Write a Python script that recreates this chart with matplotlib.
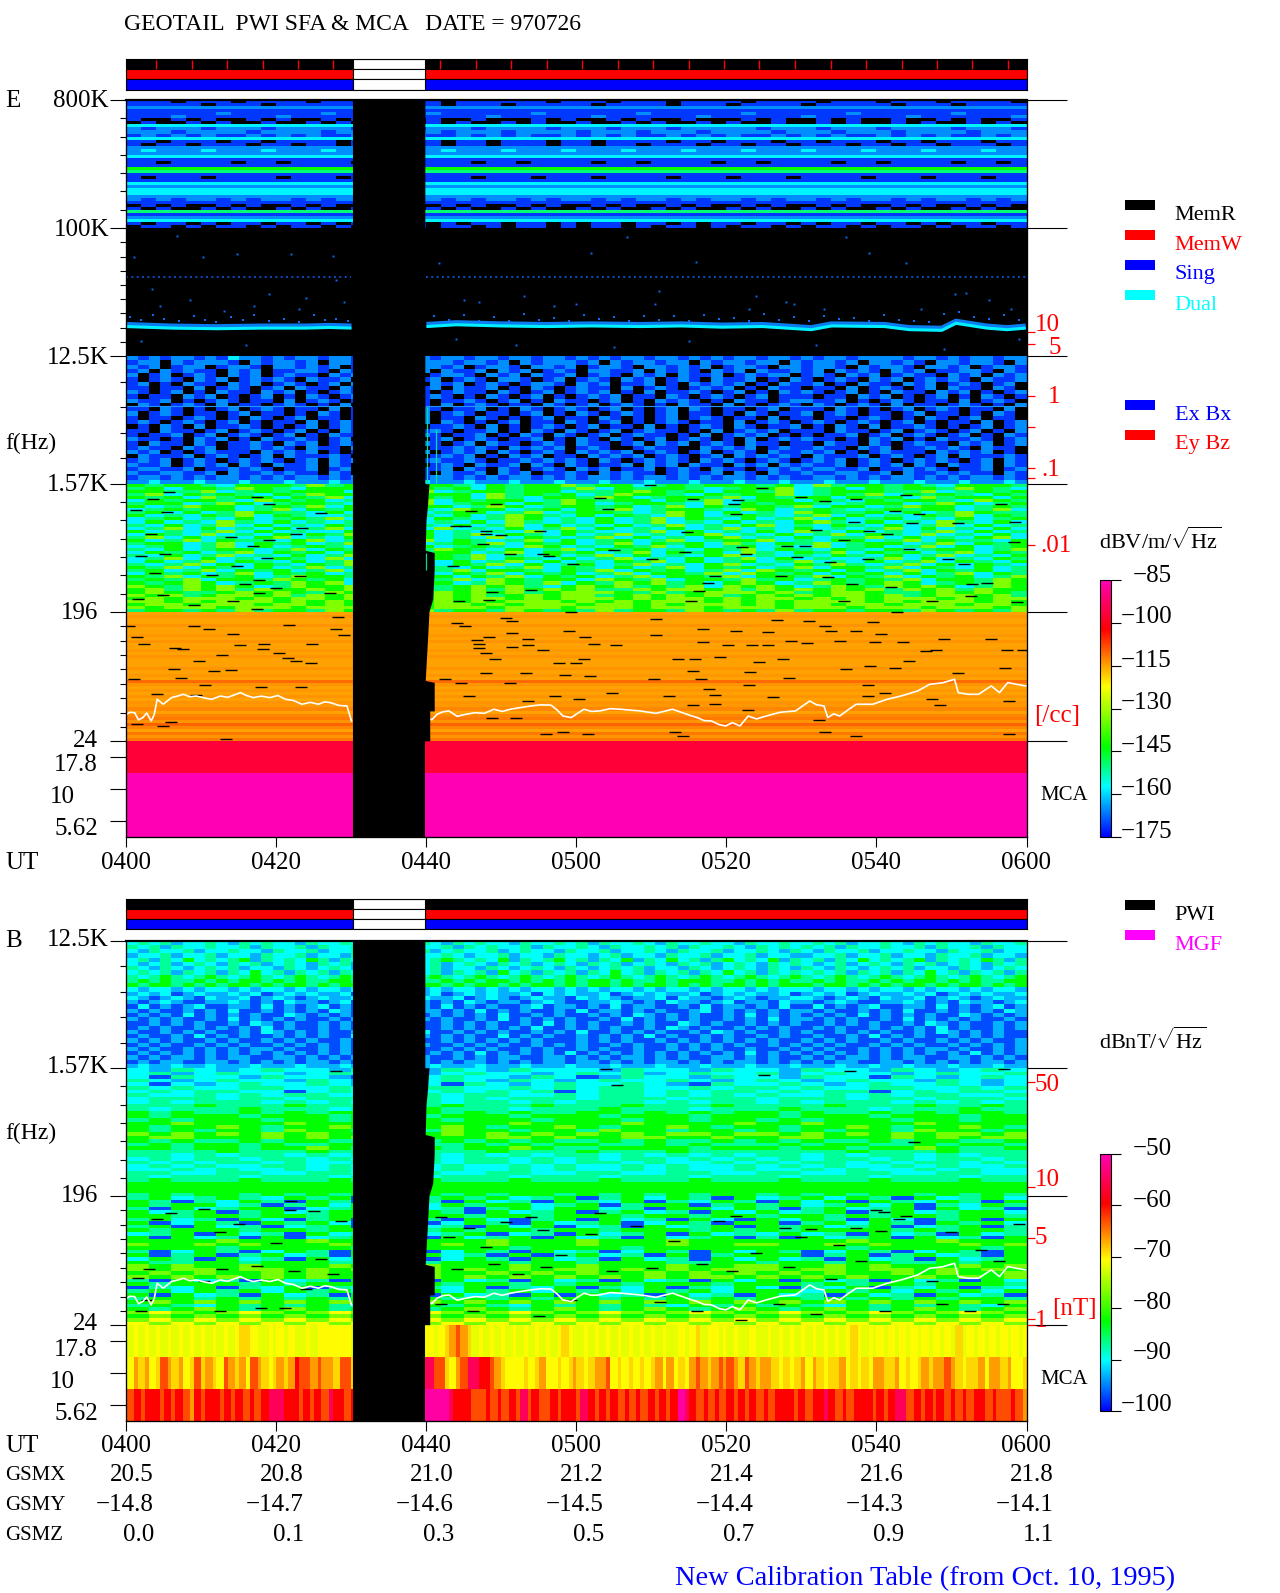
import numpy as np
import matplotlib
matplotlib.use("Agg")
import matplotlib.pyplot as plt
from matplotlib.cm import ScalarMappable
from matplotlib.colors import LinearSegmentedColormap, Normalize

W, H = 1280, 1593
FONT = "Liberation Serif"
plt.rcParams["mathtext.fontset"] = "custom"
plt.rcParams["mathtext.rm"] = FONT

# time axis, orbit table
ut_ticks = [0, 20, 40, 60, 80, 100, 120]
ut_labels = ["0400", "0420", "0440", "0500", "0520", "0540", "0600"]
gsmx = ["20.5", "20.8", "21.0", "21.2", "21.4", "21.6", "21.8"]
gsmy = ["-14.8", "-14.7", "-14.6", "-14.5", "-14.4", "-14.3", "-14.1"]
gsmz = ["0.0", "0.1", "0.3", "0.5", "0.7", "0.9", "1.1"]

# data gap and status bars (minutes after 0400)
data_spans = [(0, 30.2), (39.8, 80.2)]
gap_span = [(30.2, 9.6)]
status_ticks = [3.97, 8.7, 13.4, 18.2, 22.9, 27.6, 41.8, 46.6, 51.3, 56.1, 60.8, 65.5,
                70.2, 75, 79.7, 84.4, 89.1, 93.9, 98.6, 103.4, 108.1, 112.8, 117.6]
gap_edge_min = [39.85, 39.85, 40.4, 40.2, 40.0, 39.9, 41.1, 41.1, 40.9, 40.4, 40.2, 39.9, 41.1, 41.1, 40.5, 40.5, 39.8, 39.8]
gap_edge_hz = [800000, 1570, 1570, 1098, 850, 530, 511, 390, 240, 196, 123, 64, 62, 39, 39, 24, 24, 5.05]

# band limits in Hz
band_edges = [800000, 100000, 12500, 1570, 196, 24]
band_subdiv = [7, 9, 5, 7, 9]
mca_pos = [18.5, 11.0, 6.55]
FLOOR = 5.05

# codes -> dB
e_levels = [-999, -171, -165, -158, -150, -143, -133]
b_levels = [-999, -97, -93, -90, -87, -82.5, -77, -71]
b_mca_levels = [-999, -72, -70.7, -69, -66.6, -63, -59.6, -55, -51]

e_top = [
"111011101111011110111011111101110111011110111101110111011110", "111110111011111101111011101111101111011101111011111011101111",
"2", "1", "111111211111121111112111111211111121111112111111211111121111", "111211111121111112111111211111121111112111111211111121111112",
"100101001010010100101001000101001010010001010010100100101001", "010010100100101001001010010100100101001010010010100101001010",
"3", "212221222122222122212221222212221222122222122212221222212221", "222122221222212221222122212222122212221222212221222122221222",
"121212112121211212121121212112121211212121121212112121211212", "3",
"110111011011110110111011011101101111011011101101110110111011", "101101110110110111011011011101101101110110110111011011011101",
"2", "232223222322232223222322232223222322232223222322232223222322", "2", "3",
"1", "110111101101111011011110110111101101111011011110110111101101", "1", "5", "4",
"1", "101110111101110111011110111011101111011101110111101110111011", "1", "3", "2", "3", "3", "2",
"212122121221212212122121221212212122121221212212122121221212", "1",
"010100101001010010100101001010010100101001010010100101001010", "101001010010100101001010010100101001010010100101001010010100",
"4", "1", "2", "3", "101101011011010110110101101101011011010110110101101101011011", "011010110101101011010110101101011010110101101011010110101101",
]

e_mid = [
"21212212132212122122112122212212212212212121221221212122122121221222212212122122",
"12202122210212212022121201222122120212221202122122021221220212212022121022122102",
"21201220122102212120122110221201221022120122102212120122102212210212210221201221",
"12021211021201122102120121202112021201210221120212102120211212021210212011221021",
"20120121021201211021202121012210212021120121021202112012122012102120121102120212",
"10121021201212102112021012120121022101201210212012102112010210121021201212102112",
"12010211021201210120211201021201210122102120112010212120102112010211021201210120",
"11011020121012021102101210120211201021012110201210121201021101102012101202110210",
"21012010211021201012102120101211021012012120102011210120102121012010211021201012",
"10110212010120102101211020121010210120101212011021012101201110110212010120102101",
"21120101210110201210121020101121012010211012010212101021101221120101210110201210",
"02101210201101210102012110102012101102101201210102110201012102101210201101210102",
"11021010120121011020102101210112010210121012010120210110120111021010120121011020",
"20121011012011010210121010201210110120102101210120110102101120121011012011010210",
"10110121010210120110102101201102101012011021010120121011020110110121010210120110",
"12101210120101102012101101202101012011021012010121011020121012101210120101102012",
"01021020112101012012101201011210201012101201102010121021011201021020112101012012",
"11021101201210120102110120121011201021021012012110102012120111021101201210120102",
"10112012012101201021101201210112010210210120121101020121201010112012012101201021",
"21101021201021121012010211012012101120102102101201210102012121101021201021121012",
"10211021011210212012101201210120211012102110120212012102110110211021012110212012",
"12110212011212102110201212011212102121201210012110021212012112110212011212102110",
"21201012111021212010102111201212021012102121201210120121021121201012111021212010",
"02111201210120211121021210012120102120110212120121012021212102111201210120211121",
"12120121012121012021212101121121011212121021012121021210121012120121012121012021",
"21120121202102112021021112012102112021021011202120211021202121120121202102112021",
"12211201121210112012010212112021021012102120112012102110121212211201121210112012",
"21122112021121211021012112102112021201121021211012112021021121122112021121211021",
"12212121221212122121221212122121212212121221212212121221212112212121221212122121",
"22322232223222322232223222322232223222322232223222322232223222322232223222322232",
]

e_green = [
"54554355546453455543545564553454555453645545435554",
"45355465435554365453545546354554345563453545546543",
"55446345455535456345545534456545355463455544634545",
"46354543546554345553645453465543545563454635454354",
"54536455354635455453643554653455463545535453645535",
"35455436545345546354553465455354634553543545543654",
"45534653455435546345535465345543635455434553465345",
"53465534546354435534653455453463545546355346553454",
"34545534635453454365534535463455436534543454553463",
"45353465443534653455346345543465353436544535346544",
"53435463543346534353465435354365345434635343546354",
"34534353454634353543465343534635435346353453435345",
"35343643534346353435364343534634353435643534364353",
"43534635343543634353463534353463435634354353463534",
"34635343534634353634353463534353463435343463534353",
"53434635343354635343436354334635343536435343463534",
"35436343535463435346354353463435634353463543634353",
"46353435634353465343635434635343563435344635343563",
"53463544356345346354346353453463455634355346354435",
"45534635453463553454635453463545364354634553463545",
"34534635345434635345436534354635345343634534635345",
"43534553463543534654353463545343546354354353455346",
"35453463545354634553463545346354536435463545346354",
"43534634353463543546343534635343563434354353463435",
"34635343543635343546354353463435346353433463534354",
"35346354353463545353463534354635345346343534635435",
"43463535435463534354635345346343563435464346353543",
"54635435346345563435346354353463545346355463543534",
"45346354534635453463554354635453463654535346354534",
"35453463545346355354635453463554636545354535346354",
"54635453465543654535463545346355463554635463545346",
"45463554654536455463654553654635546453454546355465",
"54565345465635456534654635465645356534654565345465",
"65465653465564563456564356564546365653465465653465",
"56465646556564656456465656446566564656565646564655",
"56544565654656654656564566654645666564566544565654",
"65645665646565664656456566456565645656566564566564",
"56566656566565665656656566656566565665656566656566",
"66565666565656665656566656565666565656666565666565",
"56656665665656665665656665665656665656656656665665",
"65666566656665665666566656665666566656665666566656",
"45545464554654546455465454645546545464554554654546",
]

e_orange = [-115, -114.5, -115, -115, -114, -115, -115, -114.5, -115, -114, -115, -115, -114.5, -115, -114, -115, -115, -115,
            -114, -115, -114.5, -115, -111, -114, -115, -114.5, -115, -114, -115, -114, -114.5, -113, -115, -113, -112, -114,
            -110, -113, -115, -112, -114, -112]
e_mca = [-97, -85, -85]

b_top = [
"34342334324343324334342433432434332433434243343243343324334334342334324343324334",
"43424334334243342433434243334243433424334324334342433432434343424334334243342433",
"32433423343324334233432433423433423433243342334324334233432432433423343324334233",
"23342334233243342332423342334323342332433234233243342334233223342334233243342332",
"34243534345243435424343524345434352434534243524353424534352434243534345243435424",
"32342343243423432434234324342343243423432434234324342343243432342343243423432434",
"43243234342332432343243234342332432343243234342332432343243243243234342332432343",
"34342434243534243424353424342434253424342435342434243534243434342434243534243424",
"43454345434543454345434543454345434543454345434543454345434543454345434543454345",
"45454454545545454455454545445454554545454554544545554454545445454454545545454455",
"54554545455454554545545454554545545455454554545545454554545554554545455454554545",
"32332323323233232332323323232332323233232323323233232332323332332323323233232332",
"23231232232312323223123232231232322313232231232322312323223123231232232312323223",
"32123213223123212322312321322312321232213232122313221232122332123213223123212322",
"21232112232121322123122132212132122123211223212132212312213221232112232121322123",
"13121231122131212312121312213121211231221213122112131221213113121231122131212312",
"21211212131121212132121211221213121211213122121211231212121221211212131121212132",
"12121312121211321212121132121212131121211212132121211213121212121312121211321212",
"21212112131212121121213121212112131212121121312121211212131221212112131212121121",
"11212121121321211212121132112121211213121211212113212112121211212121121321211212",
"12121121212131211212121312112121212131121212112132121121212112121121212131211212",
"21121212112132121211212121311212121121213112121211213212112121121212112132121211",
"12112131212112121211321211212121131212112121213121121211212112112131212112121211",
"21212112121121212112121212112121212121112121211212121212121121212112121121212112",
"12121121212112121212112121211212121121212112121121212121121212121121212112121212",
"21211212121221211212121212112121211212112121121121212112112121211212121221211212",
"12121212121212121212121212121213121212131212121212121213121212121212121212131212",
"21212212122112212121221212211212122112212121221212112212121121212212122112212121",
"12122112212121212212121221212122121212212212121221212122121212122112212121212212",
"23223223222322232223222322232223222322232223222322232223222322232232232223222322",
]

b_upper = [
"3243234332433243243332433243324332432343",
"3423433234334234332343423433423433234334",
"3143324332132343324312433243324331432343",
"4323433243234343243234334323432343324323",
"3132343343234314323433432143343234334323",
"4343344334343443343434433434434334433434",
"3434433134344343434134434344343441343443",
"4334343443343434433434434343433434344334",
"3444344344434434344434443444344434434443",
"3434443434344434434344434344343444343434",
"4445444544454454445444544454444544454454",
"4344454443444544434445444344454443444544",
"5454454545544545454455454545545445454554",
"5455545554555455545554555455545554555455",
"4545554554555545554555455455454555455455",
"5565555655556555565555655556556555565555",
"5455654556545565455654556545545565455654",
"5454554655455465545546554554545455465545",
"6565656565566565656565656656656565656656",
"5665556565665555665655665565566555656566",
"5454454554454454545445454454545445455445",
"4545545445545445454554454544454554454554",
"5545545565445545565445555455545545565445",
"4444544454445444544454445444444454445444",
"4434344343434434343443434343443434434344",
"3434434434343434434343443434343443434434",
"4343443433433434434344343343434434344343",
"3434334434343343343433434334343433434334",
"3343433434334343343433434334334343343433",
"4433443344334433443344334433443344334433",
"4344434443444344434443444344434443444344",
"4544454445444544454445444544454445444544",
"5",
"5",
"5",
"4545545454554545455454545455454545545454",
]

b_lower = [
"4534543545153454534514535415345354153453",
"5414354154135415341543514354153515435415",
"5455341453514354553451455145453453514354",
"4153455134515341453553415535414534515341",
"5345145345534541534514534153534514534553",
"5545545545554554554555455455455454554554",
"4534153145153415314515341531535415314515",
"5135415453154135415345135415514535415453",
"4515341345145341535134153451545345134514",
"5455545545555454554554555454545555454554",
"3451534153415345134153451534353415341534",
"5153415134534153451534153451415345153415",
"5555655565556555655565556555555565556555",
"6556565556565565655565556556655656555656",
"5555455555455555545555455555555545555545",
"4135413541534135415341354153541354135415",
"5145145341514534151453415145551451453415",
"3541534153454135415341534153534153415345",
"5445545554455455545545554455455455445455",
"6565565556565655565565556556655656555656",
"6566566565656656565665656566656656656565",
"5656556565565655656565565656565655656556",
"6565656565565656565656565665656565565656",
"4153415341534153415341534153515341534153",
"5455545455545545545455455545554545545554",
"1435143514351435143514351435314351435143",
"4535453545354535453545354535553545354535",
"5153415341534153415153415341534153415341",
"4554545454545545454554545454554545454554",
"5656565656565656565656565656565656565656",
"4543545454354545435454543545454354545435",
"5456545654565456545654565456545654565456",
"6765676567656765676567656765676567656765",
"5656565656565656565656565656565656565656",
"6767676767676767676767676767676767676767",
"7676767676767676767676767676767676767676",
]

b_mca_top = (
"1212121212121212121233211212121121" + "2" * 6 + "1" * 6
+ "4556543121234543" + "1212121212121212" + "3211212121212" + "1212121" + "1212312212121121"
+ "1212121212121212" + "3212121212121212" + "1213121212121212"
)
b_mca_mid = (
"2434235434235343254342543234346554544355345" + "5" * 4
+ "7777777755324577665432" + "2232342232343234"
+ "4523232323424232" + "4543454543543443" + "2323424323342323" + "2443342323434454" + "3233424434223"
)
b_mca_low = (
"5656656565465665656565677766565657665" + "6" * 3
+ "8888877888888766" + "6556565657565565" + "6657656565656565" + "6568765656565656"
+ "5656665656676565" + "6665656775656565" + "6565665655654"
)

# white line in both panels: minutes, Hz
line_min = [0, 0.5, 1.1, 1.6, 2.2, 2.7, 3.3, 3.7, 4.1, 4.9, 5.4, 6, 6.8, 7.6, 8.4, 9.3, 10.4, 11.4, 12.5, 13.5, 15.2, 16, 16.9, 18,
            19.1, 20.2, 21.2, 22.3, 23.4, 24.5, 25.6, 26.4, 27.2, 28.3, 29.4, 30, np.nan,
            40, 40.7, 41.4, 42.2, 43, 44.1, 45.2, 46.5, 47.7, 49, 50.1, 51.2, 52.5, 53.9, 55.2, 56.6, 57.4, 58.2, 59.3, 60.2, 61, 62, 63.1,
            64.5, 65.9, 68.5, 70.6, 72.8, 75, 76.1, 77, 78, 79, 79.9, 80.8, 81.8, 82.9, 84, 85.3, 87.2, 89.2, 91.1, 92, 93, 93.5, 94.3, 95.1,
            96.2, 97.3, 99.5, 101.4, 103.3, 105.5, 107.1, 108.8, 110.4, 110.9, 112.2, 113.6, 115.3, 116.4, 117.5, 118.7, 119.9]
line_hz = [37.2, 38.5, 38.2, 34, 35.3, 38, 33.4, 37, 47.5, 43.8, 46, 48.8, 50, 51.5, 49.5, 50.1, 48.5, 47.5, 50.1, 49, 52.9, 50.5, 48.8, 50,
           48.8, 50.5, 47.5, 46.5, 43.8, 45.2, 43.8, 45.5, 45, 43, 42.6, 33.4, np.nan,
           36.2, 34, 37.2, 38.8, 39.3, 36, 37.2, 38.2, 37.8, 40.4, 39, 40.4, 41.5, 42.6, 43.4, 43.2, 40, 36.2, 35.3, 38, 40.4, 39, 39.3,
           40.8, 40.4, 39.3, 37.8, 40.4, 36.8, 35.3, 33.6, 33.4, 31.5, 30.8, 32.5, 30.8, 36.2, 34.5, 36.2, 38.5, 39.3, 46.2, 43.5, 42.6, 35.3, 37.5, 36.2,
           40, 43.8, 43.8, 47.5, 50.1, 54.4, 60.6, 62, 65.7, 52.9, 51.5, 51.5, 59, 52.9, 62.3, 60.5, 59]

# cyan emission in E panel, Hz
emis_min = [0, 6, 12, 18, 24, 27, 30, np.nan, 40, 44, 50, 56, 62, 68.5, 74, 79.4, 84.8, 91.3, 94, 101.1, 104.4, 108.7, 110.6, 114.7, 117.4, 119.9]
emis_hz = [20200, 19700, 19500, 19700, 19700, 19900, 19700, np.nan, 20200, 20800, 20400, 20200, 20400, 20200, 20400, 20000, 20200, 19200, 20400, 20200, 19200, 19000, 21300, 19700, 19200, 19700]
dotted_min = [0, 30, np.nan, 40, 120]
dotted_hz = [44800, 44800, np.nan, 44800, 44800]
faint_min = [0, 30, np.nan, 40, 120]
faint_hz = [5600, 5600, np.nan, 5600, 5600]
sparse_min = [6.8, 14.8, 1, 10.2, 22, 27.5, 28, 3.4, 8.5, 19, 24, 29, 41.7, 47, 53, 60, 66.7, 62, 71, 76, 84, 89, 96, 99, 104, 110.5, 112, 118, 4.5, 13,
              17, 23, 45, 57, 70.5, 83, 88, 93, 106, 115, 2, 16, 44, 52, 65, 75, 92, 109, 119]
sparse_hz = [88000, 66000, 63000, 63000, 66000, 64000, 43000, 37000, 31000, 34000, 32000, 30000, 57000, 30000, 33000, 29000, 86000, 67000, 36000, 58000, 33000, 29000, 86000, 67000, 57000, 34000, 35000, 27000, 28000, 26000,
             28000, 27000, 31000, 28000, 29000, 27000, 30000, 27000, 27000, 31000, 16000, 15000, 16500, 15000, 14500, 16000, 15000, 14000, 16500]
fuzz_min = [0.5, 2, 3.5, 5, 7, 9, 10.5, 12, 14, 15.5, 17, 19, 21, 23, 25, 26.5, 28, 29.5, 41, 43, 45, 47, 49, 51, 53, 55, 57, 59, 61, 63, 65, 67,
            69, 71, 73, 75, 77, 79, 81, 83, 85, 87, 89, 91, 93, 95, 97, 99, 101, 103, 105, 107, 109, 111, 113, 115, 117, 119]
fuzz_hz = [23500, 22500, 24500, 23000, 22000, 24000, 22500, 21800, 23500, 22300, 24500, 22200, 23000, 21800, 24200, 22500, 23000, 22000,
           23800, 22500, 24500, 22000, 23500, 22200, 24800, 22500, 23200, 22000, 24300, 22800, 23500, 22200,
           24000, 22500, 23800, 22200, 24500, 22800, 23200, 22000, 24600, 22500, 23500, 22000, 24000, 22800, 23300, 22200, 24300, 22500, 22000, 21800, 24800, 25500, 23500, 22800, 24200, 22500]
spike_min = [40.1, 41.3, 40.0]
spike_lo = [1570, 1570, 390]
spike_hi = [5500, 3800, 511]

# black dashes, minutes and Hz
e_dash_min = [5.7, 3.5, 17.4, 19, 1.3, 5.4, 25.9, 23.4, 3.3, 13.9, 22.6, 16.9, 19, 1.9, 5.2, 18.8, 14.7, 3.8, 11.4, 23.1, 17.7, 15.8, 19.9, 27.2, 17.7, 4.9, 1.6, 14.2, 9, 17.4,
              44, 45.2, 46, 49.3, 47.9, 47.9, 50, 47.6, 51.2, 55.5, 56.3, 59.6, 53.9, 48.7, 44.3, 63.1, 64.2, 55.2, 43.5, 65, 48.4, 59.3,
              69.8, 84.8, 90, 81.5, 93.2, 97.3, 75.5, 103.9, 116.6, 81, 102.5, 105.7, 81.3, 99, 91.9, 104.7, 110.9, 118.5, 97, 74.7, 101.4, 118.3, 95.7, 88.1, 82.1, 90.5, 74.5, 82.6, 104.4,
              70.1, 89.4, 93.8, 98.9, 109.6, 111.7, 78.5, 87.3, 93.5, 112.8, 114.7, 77.5, 96.8, 101.9, 76.4, 112.6, 95.7, 75.3, 107.4, 118.8, 102.8,
              0.3, 1.4, 2.3, 9, 11, 14.2, 21.7, 28, 28.2, 29, 6.5, 7.6, 15.1, 18.2, 18.3, 24.8, 12.8, 20.4, 21.5, 22.6, 24.6, 9.7, 6.4, 11.7, 13.9, 7.3, 1, 10.5, 18, 23.3, 4.1, 9.3, 1.4, 4.9, 6, 13.3,
              44.1, 45.2, 46.8, 47, 47, 48.4, 47.9, 49.2, 50.6, 51.4, 51.4, 51.4, 53.6, 53.6, 55.5, 57.7, 59.9, 61, 59, 61.2, 62.3, 65.3, 47.9, 53.3, 58.5, 61.8, 42.5, 44.6, 51.2, 45.7, 57.1, 60.4, 64.8, 53.6, 58.2, 61.5, 56, 48.7, 52,
              70.6, 76.9, 81.3, 85.6, 86.7, 91, 93.2, 94, 97.3, 99.5, 100.6, 70.6, 76.9, 80.2, 83.4, 85.6, 88.6, 90.8, 95.1, 99.8, 103.6, 109, 115.3, 106.6, 108, 117.4, 119.6, 73.6, 75.8, 79.1, 84.3, 87.5, 104.4,
              95.9, 99.2, 102.5, 110.9, 117.2, 75.5, 83.2, 70.4, 76.6, 88.3, 77.7, 83, 98.9, 101.1, 72.3, 78.5, 86.2, 98.9, 107.4, 108.5, 117.7, 75.6, 78.5, 82.9, 92.3, 73.1, 93.2, 74.2, 97.3, 117.7]
e_dash_hz = [1375, 1230, 1265, 1130, 1030, 990, 980, 765, 700, 665, 700, 575, 635, 490, 505, 470, 415, 370, 360, 354, 327, 310, 290, 265, 268, 257, 241, 233, 220, 206,
             790, 790, 1015, 1130, 728, 700, 680, 590, 500, 500, 490, 430, 280, 270, 233, 1250, 1040, 735, 415, 540, 240, 196,
             1535, 1470, 1276, 1210, 1190, 1235, 1235, 1320, 1125, 1130, 1015, 965, 965, 730, 745, 825, 825, 840, 850, 720, 700, 610, 635, 575, 560, 575, 520, 500, 545,
             465, 480, 440, 465, 465, 430, 353, 350, 345, 310, 313, 313, 310, 295, 277, 254, 236, 235, 233, 230, 197,
             156, 131, 116, 155, 148, 137, 158, 148, 180, 135, 109, 107, 114, 108, 117, 116, 98, 100, 93, 89, 86, 88, 78, 75, 76, 67, 66, 60, 58, 58, 52, 51, 32, 31, 33, 25,
             164, 155, 124, 116, 110, 131, 101, 91, 179, 170, 140, 111, 127, 114, 105, 86, 86, 92, 145, 131, 116, 114, 73, 73, 71, 69, 66, 62, 62, 50, 50, 48, 53, 46, 28, 27, 27, 35, 35,
             175, 148, 144, 141, 171, 169, 155, 143, 144, 166, 137, 135, 121, 114, 115, 114, 122, 118, 122, 121, 121, 127, 126, 104, 105, 105, 105, 92, 91, 95, 87, 92, 89,
             78, 81, 79, 73, 79, 75, 74, 66, 66, 67, 56, 60, 60, 53, 50, 51, 49, 50, 48, 43, 46, 43, 44, 40, 34, 28, 28, 26, 26, 27]
b_dash_min = [10.3, 4.1, 12.5, 28.6, 21.8, 25, 41.9, 45.7, 50.6, 55.5, 63.1, 99.9, 101, 103.9, 81.3, 97.3, 87.8, 91.3, 100.6,
              3, 1.6, 12.8, 27.5, 17.4, 22.3, 10.3, 24, 1.9, 12.5, 18, 2.7, 21.2, 44.1, 52.2, 46.2, 55, 41.9, 59.3, 64.8, 56, 49,
              70.1, 76.7, 80.7, 88.3, 97.9, 116.4, 107.4, 94, 101.1, 112.5, 71.2, 87, 91.9, 116.9, 108.7, 76.1, 82,
              96.5, 64, 117, 28, 85, 65.4, 105, 22, 6, 15, 20, 26, 43, 48, 54, 58, 62, 68, 73, 79, 84, 90, 95, 103, 110, 114, 119]
b_dash_hz = [160, 134, 110, 131, 156, 154, 139, 116, 129, 113, 148, 157, 152, 142, 142, 116, 117, 115, 112,
             60, 52, 60, 55, 63, 58, 49, 43, 30, 30, 32, 36, 32, 60, 55, 30, 28, 34, 36, 58, 62, 65,
             61, 65, 58, 62, 68, 68, 49, 51, 30, 30, 35, 34, 29, 34, 34, 30, 26,
             1500, 1540, 1540, 1500, 1400, 1200, 470, 180, 150, 125, 92, 70, 100, 85, 140, 75, 105, 120, 95, 130, 78, 100, 88, 135, 110, 82, 125]

# right side scales, tick places on the frequency axis
e_density_ticks = [18550, 15300, 6560, 3970, 2040, 1730, 585]
b_field_ticks = [1248, 228, 99, 26.6, 24]
e_cbar_ticks = [-175, -160, -145, -130, -115, -100, -85]
b_cbar_ticks = [-100, -90, -80, -70, -60, -50]

cmap = LinearSegmentedColormap.from_list(
    "pwi", [(0, "#0000ff"), (0.197, "#00ffff"), (0.35, "#00ff00"), (0.585, "#ffff00"), (0.807, "#ff0000"), (1, "#ff00b4")], N=256)
cmap.set_under("black")
e_norm = Normalize(-175, -85)
b_norm = Normalize(-100, -50)


def axes_px(fig, x0, y0, x1, y1):
    return fig.add_axes([x0 / W, 1 - y1 / H, (x1 - x0) / W, (y1 - y0) / H])


def put(x, y, s, color="black", size=18, ha="left"):
    fig.text(x / W, 1 - (y + 3) / H, s, color=color, fontsize=size, ha=ha, va="center", family=FONT)


def mesh_codes(ax, rows, levels, f_hi, f_lo, norm, ncol=240):
    z = np.array([[levels[int(r[j * len(r) // ncol])] for j in range(ncol)] for r in rows])
    ax.pcolormesh(np.linspace(0, 120, ncol + 1), np.geomspace(f_hi, f_lo, len(rows) + 1), z,
                  cmap=cmap, norm=norm, shading="flat", antialiased=False, linewidth=0)


def mesh_rows(ax, values, f_hi, f_lo, norm):
    z = np.array(values, dtype=float).reshape(-1, 1)
    ax.pcolormesh([0, 120], np.geomspace(f_hi, f_lo, len(values) + 1), z,
                  cmap=cmap, norm=norm, shading="flat", antialiased=False, linewidth=0)


def minor_positions(top):
    out = []
    for hi, lo, n in zip(band_edges[:-1], band_edges[1:], band_subdiv):
        if hi <= top:
            out += list(np.geomspace(hi, lo, n + 1)[1:-1])
    return out


def setup_axes(ax, top):
    ax.set_facecolor("black")
    ax.set_yscale("log")
    ax.set_xlim(-0.1, 120)
    ax.set_ylim(FLOOR, top)
    ax.spines["top"].set_visible(False)
    major = [f for f in band_edges if f <= top]
    ax.set_yticks(major + mca_pos, labels=[])
    ax.set_yticks(minor_positions(top), labels=[], minor=True)
    ax.tick_params(axis="y", which="major", length=11.5, width=0.8)
    ax.tick_params(axis="y", which="minor", length=4.5, width=0.8)
    ax.set_xticks(ut_ticks, labels=[])
    ax.tick_params(axis="x", length=7, width=0.8)
    # black lines out to the right of the panel
    right = ax.twinx()
    right.set_yscale("log")
    right.set_ylim(FLOOR, top)
    right.set_yticks(major, labels=[])
    right.minorticks_off()
    right.tick_params(axis="y", length=29, width=0.8)
    right.spines["top"].set_visible(False)
    right.patch.set_visible(False)
    ax.plot([-0.1, 120], [top, top], color="black", lw=1.6, clip_on=False, zorder=9)
    return right


def draw_gap(ax, top):
    xs = [30.2] + gap_edge_min + [30.2]
    ys = [top] + gap_edge_hz + [FLOOR]
    ys = [min(y, top) for y in ys]
    ax.fill(xs, ys, color="black", lw=0, zorder=5)


def draw_status(ax, ticks):
    ax.set_xlim(-0.1, 120)
    ax.set_ylim(0, 3)
    for row, col in zip((2, 1, 0), ("black", "red", "blue")):
        ax.broken_barh(data_spans, (row, 1), facecolor=col, edgecolor="black", lw=0.8)
        ax.broken_barh(gap_span, (row, 1), facecolor="white", edgecolor="black", lw=0.8)
    ax.vlines(ticks, 2.05, 2.95, color="red", lw=1)
    ax.set_xticks([])
    ax.set_yticks([])
    for s in ax.spines.values():
        s.set_linewidth(0.8)


def draw_cbar(ax, norm, ticks):
    cb = fig.colorbar(ScalarMappable(norm=norm, cmap=cmap), cax=ax, ticks=ticks)
    cb.ax.set_yticklabels([])
    cb.ax.tick_params(length=7, width=0.8)
    cb.outline.set_linewidth(0.8)


fig = plt.figure(figsize=(W / 100, H / 100), dpi=100, facecolor="white")
X0, X1 = 125.7, 1026.5

# E panel
draw_status(axes_px(fig, X0, 59, X1, 89.6), status_ticks)
ax_e = axes_px(fig, X0, 100, X1, 837.3)
right_e = setup_axes(ax_e, 800000)
mesh_codes(ax_e, e_top, e_levels, 800000, 100000, e_norm)
mesh_codes(ax_e, e_mid, e_levels, 12500, 1570, e_norm)
mesh_codes(ax_e, e_green, e_levels, 1570, 196, e_norm)
mesh_rows(ax_e, e_orange, 196, 24, e_norm)
mesh_rows(ax_e, e_mca, 24, FLOOR, e_norm)
ax_e.plot(emis_min, np.array(emis_hz) * 1.03, color="#0a7cf0", lw=4, solid_capstyle="butt")
ax_e.plot(emis_min, emis_hz, color="#00f0ff", lw=2.2, solid_capstyle="butt")
ax_e.plot(dotted_min, dotted_hz, color="#0a5ae0", lw=1.2, ls=(0, (1.2, 2)))
ax_e.plot(faint_min, faint_hz, color="#1e96ff", lw=0.8)
ax_e.plot(sparse_min, sparse_hz, ls="none", marker="s", ms=1.4, mew=0, color="#0a6cf5")
ax_e.plot(fuzz_min, fuzz_hz, ls="none", marker="s", ms=1.6, mew=0, color="#0a6cf5")
ax_e.plot(e_dash_min, e_dash_hz, ls="none", marker="_", ms=8, mew=1, color="black")
ax_e.plot(line_min, line_hz, color="white", lw=1.2)
draw_gap(ax_e, 800000)
ax_e.vlines(spike_min, spike_lo, spike_hi, color="#00e090", lw=0.9, zorder=6)
ax_e.tick_params(axis="y", which="both", right=False)
dens = ax_e.twinx()
dens.set_yscale("log")
dens.set_ylim(FLOOR, 800000)
dens.set_yticks(e_density_ticks, labels=[])
dens.minorticks_off()
dens.tick_params(axis="y", length=6, width=0.9, color="red")
dens.patch.set_visible(False)
dens.spines["top"].set_visible(False)
draw_cbar(axes_px(fig, 1100.4, 580, 1111.4, 837), e_norm, e_cbar_ticks)

# B panel
draw_status(axes_px(fig, X0, 899, X1, 929.3), [])
ax_b = axes_px(fig, X0, 940.7, X1, 1421)
right_b = setup_axes(ax_b, 12500)
mesh_codes(ax_b, b_top, b_levels, 12500, 1570, b_norm)
mesh_codes(ax_b, b_upper, b_levels, 1570, 196, b_norm)
mesh_codes(ax_b, b_lower, b_levels, 196, 24, b_norm)
mesh_codes(ax_b, [b_mca_top, b_mca_mid, b_mca_low], b_mca_levels, 24, FLOOR, b_norm)
ax_b.plot(b_dash_min, b_dash_hz, ls="none", marker="_", ms=8, mew=1, color="black")
ax_b.plot(line_min, line_hz, color="white", lw=1.2)
draw_gap(ax_b, 12500)
ax_b.tick_params(axis="y", which="both", right=False)
field = ax_b.twinx()
field.set_yscale("log")
field.set_ylim(FLOOR, 12500)
field.set_yticks(b_field_ticks, labels=[])
field.minorticks_off()
field.tick_params(axis="y", length=6, width=0.9, color="red")
field.patch.set_visible(False)
field.spines["top"].set_visible(False)
draw_cbar(axes_px(fig, 1100.4, 1154, 1111.4, 1411), b_norm, b_cbar_ticks)

# text
put(124.5, 21, "GEOTAIL  PWI SFA & MCA   DATE = 970726", size=17)
put(5, 98, "E")
put(5, 938, "B")
put(5, 440, "f(Hz)", size=17)
put(5, 1130, "f(Hz)", size=17)
for lab, y in zip(["800K", "100K", "12.5K", "1.57K"], [98, 227, 355, 482]):
    put(109, y, lab, ha="right")
for lab, y in zip(["196", "24", "17.8", "5.62"], [610, 738, 762, 826]):
    put(98, y, lab, ha="right")
put(50, 794, "10")
for lab, y in zip(["12.5K", "1.57K"], [937, 1064]):
    put(109, y, lab, ha="right")
for lab, y in zip(["196", "24", "17.8", "5.62"], [1193, 1321, 1347, 1411]):
    put(98, y, lab, ha="right")
put(50, 1379, "10")

tick_px = [126.5 + 7.5 * t for t in ut_ticks]
put(5, 860, "UT")
put(5, 1443, "UT")
put(5, 1472, "GSMX", size=15)
put(5, 1502, "GSMY", size=15)
put(5, 1532, "GSMZ", size=15)
for i, x in enumerate(tick_px):
    put(x - 1, 860, ut_labels[i], ha="center")
    put(x - 1, 1443, ut_labels[i], ha="center")
    put(x + 27.5, 1472, gsmx[i], ha="right")
    put(x + 27.5, 1502, gsmy[i].replace("-", "\u2212"), ha="right")
    put(x + 27.5, 1532, gsmz[i], ha="right")

for s, x, y in [("10", 1035, 322), ("5", 1048, 345), ("1", 1048, 394), (".1", 1041, 467), (".01", 1040, 543), ("[/cc]", 1034, 713),
                ("50", 1035, 1082), ("10", 1035, 1177), ("5", 1035, 1235), ("1", 1035, 1318), ("[nT]", 1052, 1306)]:
    put(x, y, s, color="red")
put(1040, 793, "MCA", size=15)
put(1040, 1377, "MCA", size=15)

for y, lab, col in [(205, "MemR", "black"), (235, "MemW", "red"), (265, "Sing", "blue"), (295, "Dual", "cyan"),
                    (405, "Ex Bx", "blue"), (435, "Ey Bz", "red"), (905, "PWI", "black"), (935, "MGF", "magenta")]:
    fig.patches.append(plt.Rectangle((1125 / W, 1 - (y + 5) / H), 30 / W, 10 / H, transform=fig.transFigure, color=col, lw=0))
    put(1174.7, y + 7, lab, color=col, size=16)

put(1099, 538, r"dBV/m/$\sqrt{\mathrm{Hz}}$", size=16)
put(1099, 1038, r"dBnT/$\sqrt{\mathrm{Hz}}$", size=16)
for lab, y in zip(e_cbar_ticks, [829, 786, 743, 700, 658, 614, 573]):
    put(1172, y, str(lab).replace("-", "\u2212"), ha="right")
for lab, y in zip(b_cbar_ticks, [1402, 1350, 1300, 1248, 1198, 1146]):
    put(1172, y, str(lab).replace("-", "\u2212"), ha="right")
put(674.7, 1576, "New Calibration Table (from Oct. 10, 1995)", color="blue", size=20.4)

fig.savefig("out.png", dpi=100)
